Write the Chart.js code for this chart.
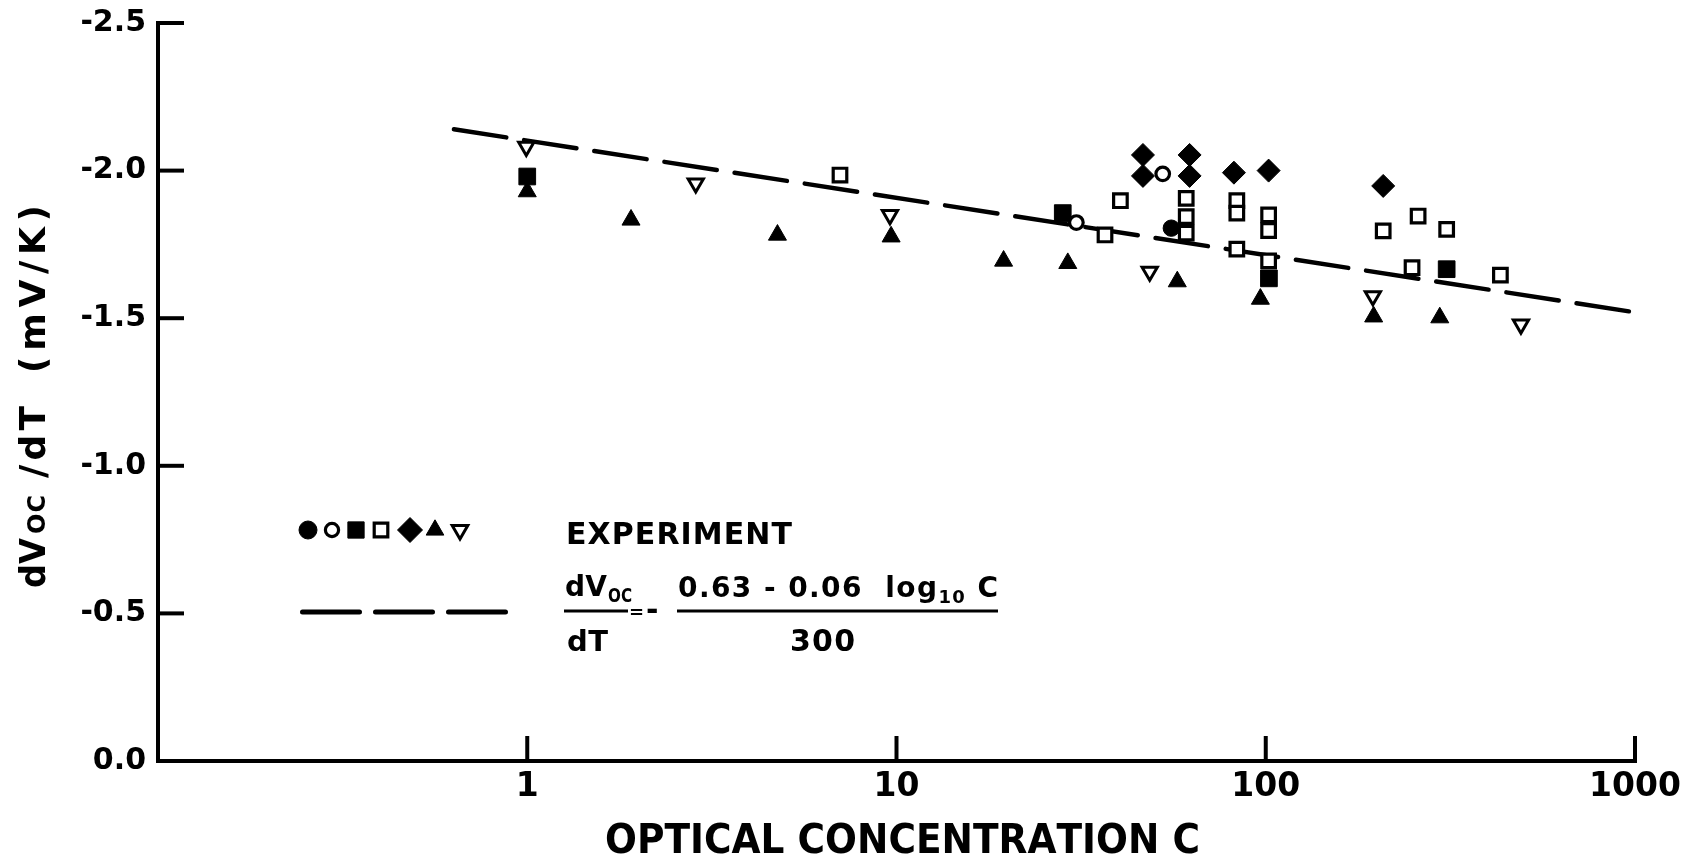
<!DOCTYPE html>
<html>
<head>
<meta charset="utf-8">
<title>dVoc/dT vs optical concentration</title>
<script src="https://cdn.jsdelivr.net/npm/chart.js"></script>
<style>
  html, body { margin: 0; padding: 0; background: #fff; }
  #wrap { width: 1682px; height: 861px; }
</style>
</head>
<body>
<div id="wrap"><canvas id="chart" width="1682" height="861"></canvas></div>
<script>
// values
var xTickValues = [1, 10, 100, 1000];
var xTickLabels = ["1", "10", "100", "1000"];
var yTickValues = [-2.5, -2.0, -1.5, -1.0, -0.5, 0.0];
var yTickLabels = ["-2.5", "-2.0", "-1.5", "-1.0", "-0.5", "0.0"];

var filledCircleC = [55.5];
var filledCircleV = [-1.805];
var openCircleC = [30.7, 52.6];
var openCircleV = [-1.824, -1.989];
var filledSquareC = [1.0, 28.2, 102, 309];
var filledSquareV = [-1.98, -1.856, -1.635, -1.666];
var openSquareC = [7.03, 36.7, 40.4, 60.9, 60.9, 60.9, 83.5, 83.5, 83.5, 101.8, 101.8, 101.8, 208, 258.6, 309, 249, 432];
var openSquareV = [-1.985, -1.782, -1.898, -1.906, -1.844, -1.788, -1.898, -1.856, -1.734, -1.85, -1.797, -1.694, -1.796, -1.846, -1.801, -1.671, -1.646];
var diamondC = [46.5, 46.5, 62.2, 62.2, 82, 101.8, 208];
var diamondV = [-2.053, -1.982, -2.053, -1.982, -1.993, -2.0, -1.948];
var triangleC = [1.0, 1.91, 4.76, 9.67, 19.5, 29.1, 57.6, 96.7, 196, 296];
var triangleV = [-1.929, -1.833, -1.782, -1.776, -1.694, -1.686, -1.624, -1.565, -1.505, -1.502];
var invTriangleC = [0.994, 2.86, 9.6, 48.5, 195, 491];
var invTriangleV = [-2.081, -1.957, -1.85, -1.658, -1.575, -1.479];
var fitC = [0.633, 1000];
var fitV = [-2.14, -1.52];

var FAMILY = '"DejaVu Sans", "Liberation Sans", sans-serif';
var INK = "#000";

function font(size) { return "bold " + size + "px " + FAMILY; }

function pairs(xs, ys) {
  return xs.map(function (x, i) { return { x: x, y: ys[i] }; });
}

// draw text runs char by char, spread (or squeezed) to a given width
function drawRuns(ctx, runs, x, y, width) {
  var natural = 0, chars = 0;
  runs.forEach(function (r) {
    ctx.font = font(r[1]);
    for (var i = 0; i < r[0].length; i++) natural += ctx.measureText(r[0][i]).width;
    chars += r[0].length;
  });
  var gap = 0, sx = 1;
  if (width) {
    gap = (width - natural) / Math.max(1, chars - 1);
    if (gap < 0) { sx = width / natural; gap = 0; }
  }
  ctx.save();
  ctx.translate(x, y);
  ctx.scale(sx, 1);
  var cx = 0;
  runs.forEach(function (r) {
    ctx.font = font(r[1]);
    for (var i = 0; i < r[0].length; i++) {
      ctx.fillText(r[0][i], cx, r[2] || 0);
      cx += ctx.measureText(r[0][i]).width + gap;
    }
  });
  ctx.restore();
}

function seg(ctx, x1, y1, x2, y2) {
  ctx.beginPath();
  ctx.moveTo(x1, y1);
  ctx.lineTo(x2, y2);
  ctx.stroke();
}

// legend order: filled circle, open circle, filled square, open square, diamond, triangle, inverted triangle
var legendMarks = [
  { style: "circle", r: 9, fill: INK, bw: 1 },
  { style: "circle", r: 6.6, fill: "#fff", bw: 3.2 },
  { style: "rect", r: 11.5, fill: INK, bw: 1 },
  { style: "rect", r: 9.6, fill: "#fff", bw: 3.2 },
  { style: "rectRot", r: 12.5, fill: INK, bw: 1 },
  { style: "triangle", r: 10.2, fill: INK, bw: 1 },
  { style: "triangle", r: 9, fill: "#fff", bw: 3, rot: 180 }
];

var decor = {
  id: "decor",
  afterDraw: function (chart) {
    var ctx = chart.ctx, a = chart.chartArea;
    var xs = chart.scales.x, ys = chart.scales.y;
    ctx.save();
    ctx.strokeStyle = INK;
    ctx.fillStyle = INK;

    // inward tick marks
    ctx.lineWidth = 4;
    ys.ticks.forEach(function (t) {
      if (t.value === 0) return;
      var p = ys.getPixelForValue(t.value);
      seg(ctx, a.left - 2, p, a.left + 26, p);
    });
    xs.ticks.forEach(function (t) {
      var p = xs.getPixelForValue(t.value);
      seg(ctx, p, a.bottom + 2, p, a.bottom - 25);
    });

    // axis titles
    ctx.textBaseline = "alphabetic";
    ctx.textAlign = "left";
    drawRuns(ctx, [["OPTICAL CONCENTRATION C", 41]], 605, 853, 595);

    ctx.save();
    ctx.translate(45, 588);
    ctx.rotate(-Math.PI / 2);
    drawRuns(ctx, [["dV", 36]], 0, 0, 50);
    drawRuns(ctx, [["OC", 24]], 54, 0, 39);
    drawRuns(ctx, [["/dT", 36]], 110, 0, 72);
    drawRuns(ctx, [["(mV/K)", 36]], 215, 0, 168);
    ctx.restore();

    // legend: experiment markers
    var lx = [308, 332, 356, 381, 410, 435, 460];
    legendMarks.forEach(function (m, i) {
      ctx.fillStyle = m.fill;
      ctx.lineWidth = m.bw;
      Chart.helpers.drawPoint(ctx, { pointStyle: m.style, radius: m.r, borderWidth: m.bw, rotation: m.rot || 0 }, lx[i], 530);
    });
    ctx.fillStyle = INK;
    drawRuns(ctx, [["EXPERIMENT", 30]], 566, 544, 226);

    // legend: dashed line and formula
    ctx.save();
    ctx.lineWidth = 5;
    ctx.lineCap = "round";
    ctx.setLineDash([57, 16]);
    seg(ctx, 302.5, 612, 505.5, 612);
    ctx.restore();

    drawRuns(ctx, [["dV", 28]], 565, 596, 42);
    drawRuns(ctx, [["OC", 19]], 608, 602, 24);
    ctx.lineWidth = 3;
    seg(ctx, 564, 611, 628, 611);
    drawRuns(ctx, [["=", 18]], 629, 618, 0);
    drawRuns(ctx, [["-", 30]], 646, 620, 0);
    seg(ctx, 677, 611, 998, 611);
    drawRuns(ctx, [["0.63 - 0.06  log", 28], ["10", 18, 6], [" C", 28]], 678, 597, 320);
    drawRuns(ctx, [["dT", 29]], 567, 651, 41);
    drawRuns(ctx, [["300", 30]], 790, 651, 65);
    ctx.restore();
  }
};

function markerSet(xsArr, ysArr, m, r) {
  return {
    data: pairs(xsArr, ysArr),
    pointStyle: m.style,
    pointRadius: r,
    pointHoverRadius: r,
    pointRotation: m.rot || 0,
    pointBackgroundColor: m.fill,
    pointBorderColor: INK,
    pointBorderWidth: m.bw,
    showLine: false
  };
}

// first dataset is drawn on top, the dashed line last (behind)
var datasets = [
  markerSet(invTriangleC, invTriangleV, legendMarks[6], 8.8),
  markerSet(openSquareC, openSquareV, legendMarks[3], 9.6),
  markerSet(openCircleC, openCircleV, legendMarks[1], 6.8),
  markerSet(filledSquareC, filledSquareV, legendMarks[2], 11.8),
  markerSet(filledCircleC, filledCircleV, legendMarks[0], 8.2),
  markerSet(diamondC, diamondV, legendMarks[4], 11.5),
  markerSet(triangleC, triangleV, legendMarks[5], 10.4),
  {
    data: pairs(fitC, fitV),
    showLine: true,
    borderColor: INK,
    borderWidth: 4.5,
    borderDash: [53, 18],
    borderCapStyle: "round",
    pointRadius: 0,
    pointHoverRadius: 0,
    fill: false
  }
];

new Chart(document.getElementById("chart"), {
  type: "scatter",
  data: { datasets: datasets },
  options: {
    responsive: false,
    animation: false,
    events: [],
    layout: { padding: { left: 0, right: 47, top: 23, bottom: 0 } },
    plugins: { legend: { display: false }, tooltip: { enabled: false } },
    scales: {
      x: {
        type: "logarithmic",
        min: 0.1,
        max: 1000,
        grid: { display: false, drawTicks: false },
        border: { display: true, color: INK, width: 4 },
        ticks: {
          autoSkip: false,
          maxRotation: 0,
          padding: 7,
          color: INK,
          font: { family: FAMILY, size: 33, weight: "bold" },
          callback: function (v, i) { return xTickLabels[i]; }
        },
        afterBuildTicks: function (s) {
          s.ticks = xTickValues.map(function (v) { return { value: v }; });
        },
        afterFit: function (s) {
          s.height = 100;
          s.paddingLeft = 0;
          s.paddingRight = 0;
        }
      },
      y: {
        type: "linear",
        min: -2.5,
        max: 0,
        reverse: true,
        grid: { display: false, drawTicks: false },
        border: { display: true, color: INK, width: 4 },
        ticks: {
          padding: 12,
          color: INK,
          font: { family: FAMILY, size: 30, weight: "bold" },
          callback: function (v, i) { return yTickLabels[i]; }
        },
        afterBuildTicks: function (s) {
          s.ticks = yTickValues.map(function (v) { return { value: v }; });
        },
        afterFit: function (s) {
          s.width = 158;
          s.paddingTop = 0;
          s.paddingBottom = 0;
        }
      }
    }
  },
  plugins: [decor]
});
</script>
</body>
</html>
